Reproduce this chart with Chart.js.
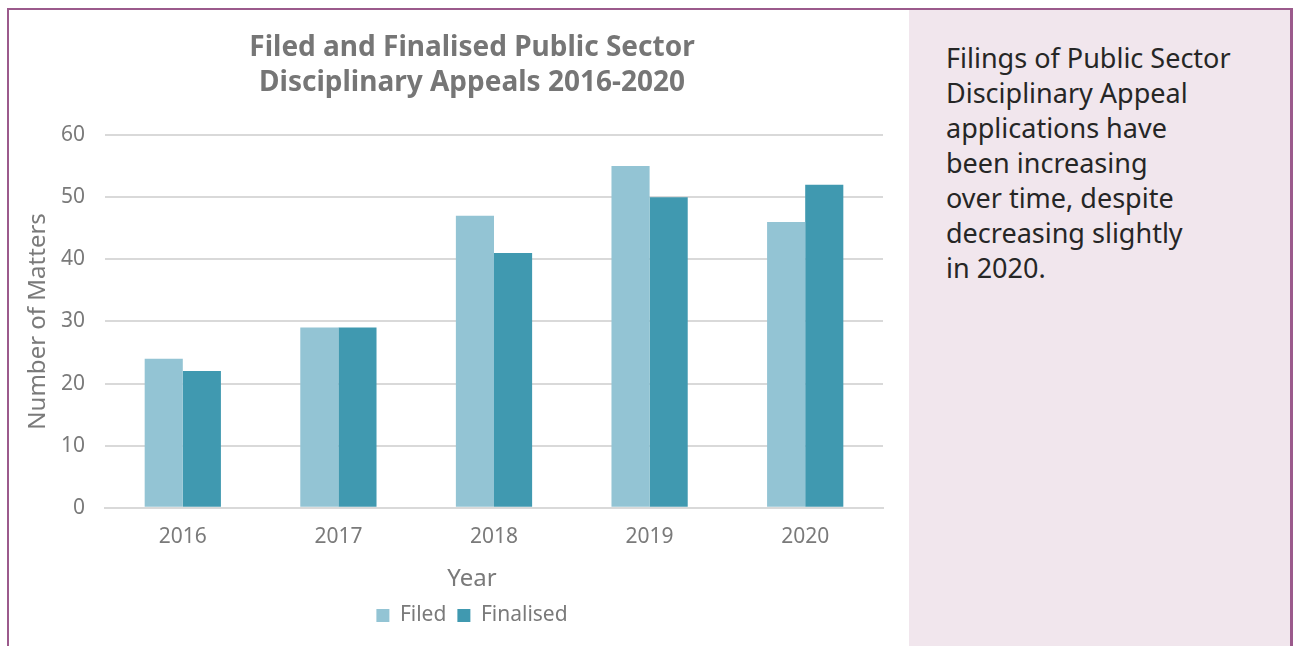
<!DOCTYPE html>
<html>
<head>
<meta charset="utf-8">
<script src="https://cdn.jsdelivr.net/npm/chart.js@4"></script>
<style>
  html, body { margin: 0; padding: 0; background: #fff; }
  body { width: 1295px; height: 646px; position: relative; overflow: hidden; font-family: "Noto Sans", sans-serif; }
  #left {
    position: absolute; left: 7px; top: 8px; width: 902px; height: 640px;
    border-left: 2px solid #9b5a8c; border-top: 2px solid #9b5a8c; box-sizing: border-box;
  }
  #chartBox { position: absolute; left: 0; top: 0; width: 900px; height: 638px; }
  #side {
    position: absolute; left: 909px; top: 8px; width: 384px; height: 640px;
    background: #f1e6ed; border-top: 2px solid #9b5a8c; border-right: 3px solid #9b5a8c; box-sizing: border-box;
    color: #262626; font-size: 27px; line-height: 35px; padding: 30px 0 0 37px;
  }
</style>
</head>
<body>
<div id="left"><div id="chartBox"><canvas id="grafico"></canvas></div></div>
<div id="side">Filings of Public Sector<br>Disciplinary Appeal<br>applications have<br>been increasing<br>over time, despite<br>decreasing slightly<br>in 2020.</div>
<script>
// Datos por año
const anios = ['2016', '2017', '2018', '2019', '2020'];
const presentadas = [24, 29, 47, 55, 46];
const finalizadas = [22, 29, 41, 50, 52];

const gris = '#7a7a7a';
const fuente = '"Noto Sans", sans-serif';

// Título, "Year" y leyenda van centrados sobre todo el gráfico (eje incluido), no sobre el área de barras
const desplazarCajas = {
  id: 'desplazarCajas',
  afterLayout(chart) {
    chart.boxes.forEach(b => {
      if (!(b instanceof Chart.Scale)) { b.left += 19; b.right += 19; }
    });
  }
};

const ctx = document.getElementById('grafico').getContext('2d');
new Chart(ctx, {
  type: 'bar',
  data: {
    labels: anios,
    datasets: [
      { label: 'Filed', data: presentadas, backgroundColor: '#93c4d4', categoryPercentage: 0.49, barPercentage: 1 },
      { label: 'Finalised', data: finalizadas, backgroundColor: '#4099b0', categoryPercentage: 0.49, barPercentage: 1 }
    ]
  },
  plugins: [desplazarCajas],
  options: {
    responsive: true,
    maintainAspectRatio: false,
    animation: false,
    layout: { padding: { left: 14, right: 26, top: 0, bottom: 12 } },
    plugins: {
      title: {
        display: true,
        text: ['Filed and Finalised Public Sector', 'Disciplinary Appeals 2016-2020'],
        color: '#767676',
        font: { family: fuente, size: 28, weight: 'bold', lineHeight: 1.25 },
        padding: { top: 21, bottom: 34 }
      },
      subtitle: {
        display: true,
        position: 'bottom',
        weight: 500,
        text: 'Year',
        color: gris,
        font: { family: fuente, size: 24, lineHeight: 1.25 },
        padding: { top: 5, bottom: 0 }
      },
      legend: {
        position: 'bottom',
        labels: { color: gris, font: { family: fuente, size: 21 }, boxWidth: 13, boxHeight: 13, padding: 11 }
      },
      tooltip: { enabled: false }
    },
    scales: {
      x: {
        grid: { display: false },
        border: { color: '#d9d9d9', width: 2 },
        ticks: { color: gris, font: { family: fuente, size: 21 }, padding: 9 }
      },
      y: {
        min: 0, max: 60,
        ticks: { stepSize: 10, color: gris, font: { family: fuente, size: 21 }, padding: 20 },
        grid: { color: '#d9d9d9', lineWidth: 2, drawTicks: false },
        border: { display: false },
        title: { display: true, text: 'Number of Matters', color: gris, font: { family: fuente, size: 24 }, padding: { top: 1, bottom: 8 } },
        // ancho fijo del eje para que el área de barras empiece donde toca
        afterFit(escala) { escala.width = 82; }
      }
    }
  }
});
</script>
</body>
</html>
